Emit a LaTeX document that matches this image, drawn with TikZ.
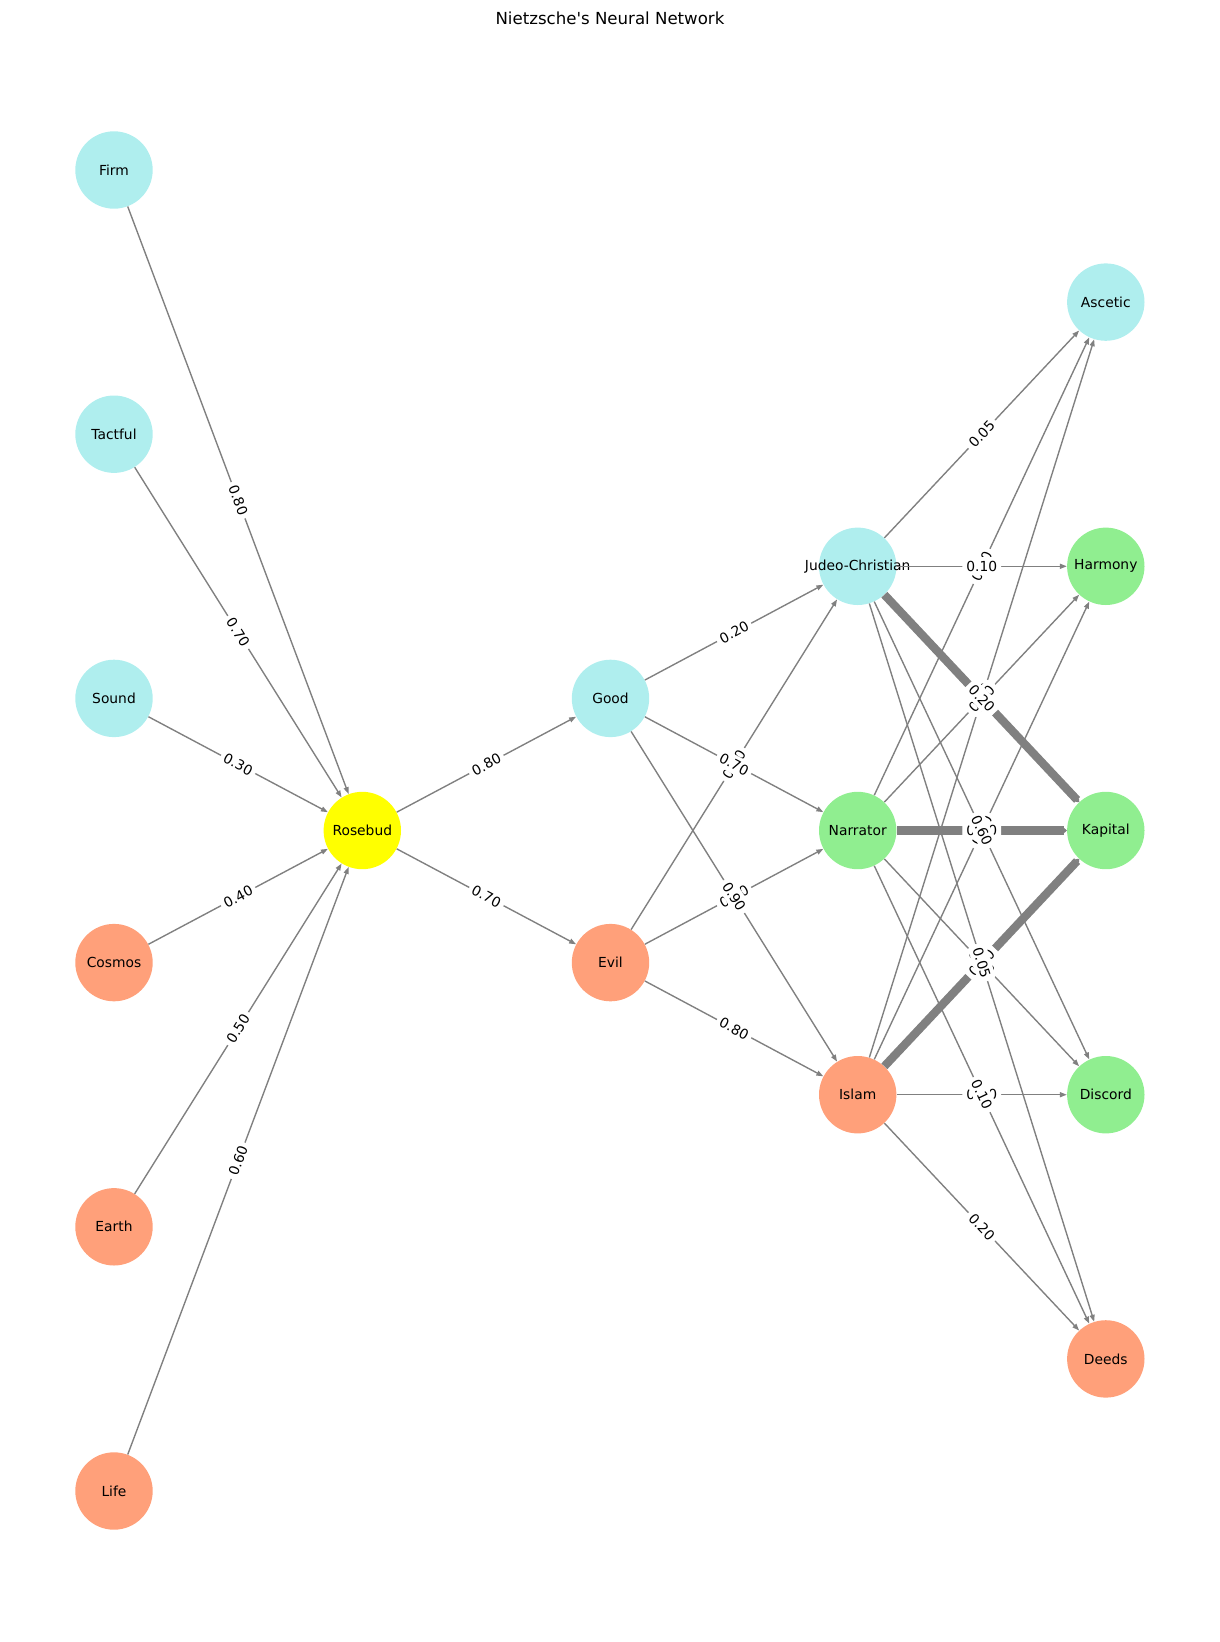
\documentclass[tikz,border=0pt]{standalone}
\usepackage{fontspec}
\setmainfont{DejaVu Sans}
\usetikzlibrary{arrows.meta}
\definecolor{pturq}{HTML}{AFEEEE}
\definecolor{lsalmon}{HTML}{FFA07A}
\definecolor{lgreen}{HTML}{90EE90}
\definecolor{pyellow}{HTML}{FFFF00}
\definecolor{egray}{HTML}{808080}
\begin{document}
\begin{tikzpicture}[x=0.254mm,y=-0.254mm,
  nd/.style={circle, minimum size=19.66mm, inner sep=0pt, font=\fontsize{10}{12}\selectfont},
  cy/.style={nd, fill=pturq},
  sa/.style={nd, fill=lsalmon},
  gr/.style={nd, fill=lgreen},
  ye/.style={nd, fill=pyellow},
  edge/.style={draw=egray, line width=1pt, -{Triangle[length=5pt,width=3.6pt]}},
  bigedge/.style={draw=egray, line width=6pt, -{Triangle[length=2.5pt,width=4pt,round]}},
  lbl/.style={fill=white, draw=white, rounded corners=3pt, inner sep=2.6pt, font=\fontsize{10}{12}\selectfont, sloped, midway}]
\useasboundingbox (0,0) rectangle (1220,1642);
\node[font=\fontsize{12}{14}\selectfont] (title) at (610,18) {Nietzsche\textquotesingle s Neural Network};
% nodes
\node[cy] (firm) at (114,170) {Firm};
\node[cy] (tact) at (114,434.2) {Tactful};
\node[cy] (sound) at (114,698.4) {Sound};
\node[sa] (cosmos) at (114,962.6) {Cosmos};
\node[sa] (earth) at (114,1226.8) {Earth};
\node[sa] (life) at (114,1491) {Life};
\node[ye] (rose) at (362.3,830.5) {Rosebud};
\node[cy] (good) at (610.5,698.4) {Good};
\node[sa] (evil) at (610.5,962.6) {Evil};
\node[cy] (jc) at (857.7,566.3) {\makebox[0pt]{Judeo-Christian}};
\node[gr] (nar) at (857.7,830.5) {Narrator};
\node[sa] (isl) at (857.7,1094.7) {Islam};
\node[cy] (asc) at (1105.8,302.1) {Ascetic};
\node[gr] (har) at (1105.8,566.3) {Harmony};
\node[gr] (kap) at (1105.8,830.5) {Kapital};
\node[gr] (dis) at (1105.8,1094.7) {Discord};
\node[sa] (dee) at (1105.8,1358.9) {Deeds};
% edges
\foreach \s in {firm,tact,sound,cosmos,earth,life} \draw[edge] (\s) -- (rose);
\draw[edge] (rose) -- (good);
\draw[edge] (rose) -- (evil);
\foreach \s in {good,evil} \foreach \t in {jc,nar,isl} \draw[edge] (\s) -- (\t);
\foreach \s in {jc,nar,isl} \foreach \t in {asc,har,dis,dee} \draw[edge] (\s) -- (\t);
\foreach \s in {jc,nar,isl} \draw[bigedge] (\s) -- (kap);
% labels
\path (firm) -- node[lbl] {0.80} (rose);
\path (tact) -- node[lbl] {0.70} (rose);
\path (sound) -- node[lbl] {0.30} (rose);
\path (cosmos) -- node[lbl] {0.40} (rose);
\path (earth) -- node[lbl] {0.50} (rose);
\path (life) -- node[lbl] {0.60} (rose);
\path (rose) -- node[lbl] {0.80} (good);
\path (rose) -- node[lbl] {0.70} (evil);
\path (evil) -- node[lbl] {0.60} (jc);
\path (evil) -- node[lbl] {0.10} (nar);
\path (evil) -- node[lbl] {0.80} (isl);
\path (good) -- node[lbl] {0.20} (jc);
\path (good) -- node[lbl] {0.70} (nar);
\path (good) -- node[lbl] {0.90} (isl);
\path (isl) -- node[lbl] {0.40} (asc);
\path (isl) -- node[lbl] {0.30} (har);
\path (isl) -- node[lbl] {0.80} (kap);
\path (isl) -- node[lbl] {0.10} (dis);
\path (isl) -- node[lbl] {0.20} (dee);
\path (nar) -- node[lbl] {0.50} (asc);
\path (nar) -- node[lbl] {0.30} (har);
\path (nar) -- node[lbl] {0.90} (kap);
\path (nar) -- node[lbl] {0.20} (dis);
\path (nar) -- node[lbl] {0.10} (dee);
\path (jc) -- node[lbl] {0.05} (asc);
\path (jc) -- node[lbl] {0.10} (har);
\path (jc) -- node[lbl] {0.20} (kap);
\path (jc) -- node[lbl] {0.60} (dis);
\path (jc) -- node[lbl] {0.05} (dee);
\end{tikzpicture}
\end{document}
